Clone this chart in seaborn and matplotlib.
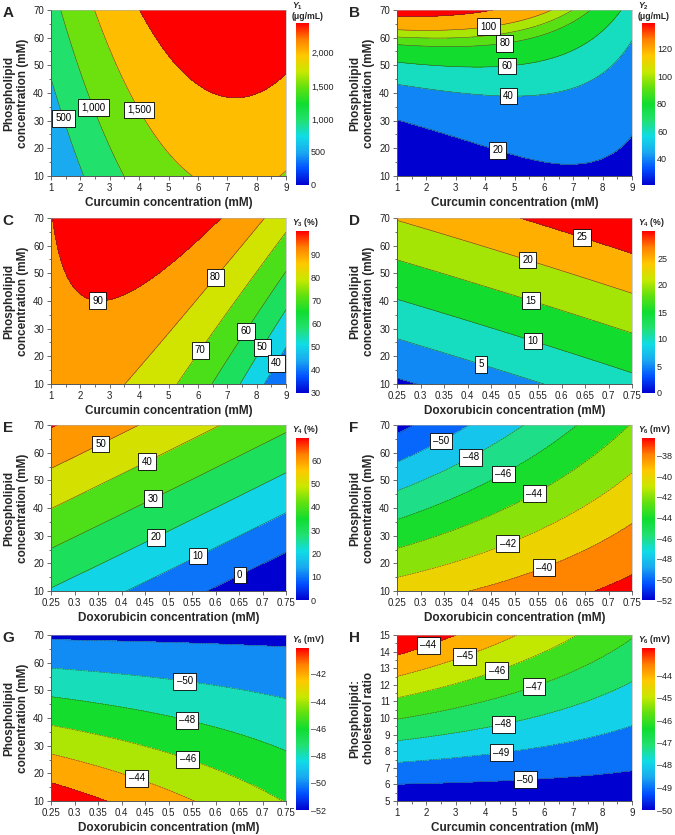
import numpy as np
import matplotlib
matplotlib.use("Agg")
import matplotlib.pyplot as plt
import seaborn as sns
from matplotlib.colors import Normalize
from matplotlib.cm import ScalarMappable
from matplotlib.ticker import MultipleLocator, FuncFormatter

a_x = [1, 1.25, 1.48, 2.08, 1.34, 1.85, 2.5, 3.52, 2.5, 3.18, 3.95, 4.6, 5.97, 8.8, 9,
       4.01, 4.5, 5.45, 6.3, 7.4, 8.4, 9]
a_y = [45.8, 38, 30, 10, 70, 50, 33, 10, 70, 50, 33, 22, 10, 10, 11.5,
       70, 60, 50, 43, 39.5, 42, 45.6]
a_z = [500, 500, 500, 500, 1000, 1000, 1000, 1000, 1500, 1500, 1500, 1500, 1500, 1500, 1500,
       2000, 2000, 2000, 2000, 2000, 2000, 2000]

b_x = [1, 2.5, 3.5, 4.3, 1, 2.5, 4.1, 5.94, 1, 3, 4.5, 7.07, 1, 3, 4.6, 6.5, 7.86,
       1, 3, 4.7, 6, 7, 7.8, 8.5, 1, 2, 3, 4.8, 6, 7, 8, 8.5, 9,
       1, 2, 3, 4.4, 5, 6.3, 7, 8, 9]
b_y = [67, 68, 69, 70, 63.6, 63.5, 64.3, 70, 59.8, 59.5, 60.9, 70, 56.4, 55.8, 56.8, 61, 70,
       52.5, 50.3, 50, 53, 56.8, 62, 70, 43.8, 41.8, 40, 38, 39.5, 41.5, 47.8, 52.5, 58,
       29.2, 27, 24.5, 19.5, 17.5, 15.4, 15.6, 17, 21.4]
b_z = [120, 120, 120, 120, 100, 100, 100, 100, 90, 90, 90, 90, 80, 80, 80, 80, 80,
       60, 60, 60, 60, 60, 60, 60, 40, 40, 40, 40, 40, 40, 40, 40, 40,
       20, 20, 20, 20, 20, 20, 20, 20, 20]

c_x = [1.02, 1.14, 1.48, 1.93, 2.9, 4.6, 5.74, 6.76, 3.56, 5, 6.53, 8.3,
       5.28, 6.08, 7.5, 9, 6.45, 7.56, 9, 7.44, 8.18, 9, 8.27, 8.67, 9]
c_y = [70, 60, 50, 45, 42.4, 50.6, 60, 70, 10, 27.5, 48, 70,
       10, 21.8, 40.5, 65, 10, 28.5, 51.2, 10, 23, 36.7, 10, 17.5, 24.1]
c_z = [90, 90, 90, 90, 90, 90, 90, 90, 80, 80, 80, 80,
       70, 70, 70, 70, 60, 60, 60, 50, 50, 50, 40, 40, 40]

d_x = [0.25, 0.289, 0.25, 0.429, 0.56, 0.25, 0.538, 0.75, 0.25, 0.534, 0.75,
       0.25, 0.526, 0.75, 0.51, 0.643, 0.75]
d_y = [12.4, 10, 26.3, 17.5, 10, 40.4, 25.3, 14, 55, 40.3, 28.6,
       69.2, 54.9, 43, 70, 63.3, 56.8]
d_z = [0, 0, 5, 5, 5, 10, 10, 10, 15, 15, 15, 20, 20, 20, 25, 25, 25]

e_x = [0.25, 0.265, 0.25, 0.355, 0.433, 0.25, 0.454, 0.607, 0.25, 0.468, 0.75,
       0.25, 0.473, 0.75, 0.419, 0.563, 0.75, 0.582, 0.65, 0.75]
e_y = [69, 70, 54.1, 63.1, 70, 39.9, 56.6, 70, 25.4, 43.4, 67,
       11.5, 29.4, 52.7, 10, 22.8, 38.3, 10, 16, 24]
e_z = [60, 60, 50, 50, 50, 40, 40, 40, 30, 30, 30, 20, 20, 20, 10, 10, 10, 0, 0, 0]

f_x = [0.25, 0.28, 0.25, 0.345, 0.40, 0.25, 0.409, 0.52, 0.25, 0.475, 0.64,
       0.25, 0.542, 0.74, 0.25, 0.485, 0.75, 0.40, 0.563, 0.75, 0.672, 0.75]
f_y = [66.4, 70, 56.3, 64, 70, 46.5, 58, 70, 36, 52.3, 70,
       25.2, 45.3, 70, 14.7, 27.2, 52.6, 10, 18.6, 34.4, 10, 15.6]
f_z = [-52, -52, -50, -50, -50, -48, -48, -48, -46, -46, -46,
       -44, -44, -44, -42, -42, -42, -40, -40, -40, -38, -38]

g_x = [0.25, 0.5, 0.75, 0.25, 0.533, 0.75, 0.25, 0.54, 0.75, 0.25, 0.542, 0.74,
       0.25, 0.433, 0.55, 0.25, 0.369]
g_y = [68.6, 67.5, 65.6, 57.8, 52.7, 47, 47.7, 39.5, 28.4, 37.1, 25.4, 10,
       27.2, 18.3, 10, 16.6, 10]
g_z = [-52, -52, -52, -50, -50, -50, -48, -48, -48, -46, -46, -46,
       -44, -44, -44, -42, -42]

h_x = [1, 2.06, 2.91, 1, 3.31, 5.07, 1, 4.39, 7.29, 1, 5.64, 9,
       1, 4.62, 9, 1, 4.56, 9, 1, 5.36, 9]
h_y = [13.8, 14.4, 15, 12.46, 13.7, 15, 11.2, 12.86, 15, 9.9, 11.96, 14.8,
       8.6, 9.6, 12.3, 7.34, 7.94, 9.54, 6.06, 6.24, 6.8]
h_z = [-44, -44, -44, -45, -45, -45, -46, -46, -46, -47, -47, -47,
       -48, -48, -48, -49, -49, -49, -50, -50, -50]

# contour levels and colour bar ranges
a_levels = [500, 1000, 1500, 2000]
b_levels = [20, 40, 60, 80, 90, 100, 120]
c_levels = [40, 50, 60, 70, 80, 90]
d_levels = [0, 5, 10, 15, 20, 25]
e_levels = [0, 10, 20, 30, 40, 50, 60]
f_levels = [-52, -50, -48, -46, -44, -42, -40, -38]
g_levels = [-52, -50, -48, -46, -44, -42]
h_levels = [-50, -49, -48, -47, -46, -45, -44]

curc_ticks = [1, 2, 3, 4, 5, 6, 7, 8, 9]
doxo_ticks = [0.25, 0.3, 0.35, 0.4, 0.45, 0.5, 0.55, 0.6, 0.65, 0.7, 0.75]
pl_ticks = [10, 20, 30, 40, 50, 60, 70]
ratio_ticks = [5, 6, 7, 8, 9, 10, 11, 12, 13, 14, 15]

sns.set_theme(style="ticks")
plt.rcParams["font.family"] = ["Liberation Sans", "DejaVu Sans"]
plt.rcParams["mathtext.fontset"] = "custom"
plt.rcParams["mathtext.it"] = "Liberation Sans:italic:bold"
plt.rcParams["mathtext.rm"] = "Liberation Sans:bold"
plt.rcParams["mathtext.bf"] = "Liberation Sans:bold"

cmap = sns.blend_palette(["#0000d0", "#0050ff", "#1aa8f0", "#10dce6", "#22e070", "#10dd30",
                          "#60e010", "#c8e800", "#ffc800", "#ff8000", "#ff0000"],
                         n_colors=256, as_cmap=True)


def dash(v):
    return f"{v:g}".replace("-", "\u2013")


def thousands(v):
    return f"{v:,.0f}"


def fit_surface(xs, ys, zs, xlim, ylim, deg=2, n=300):
    xs, ys, zs = np.asarray(xs, float), np.asarray(ys, float), np.asarray(zs, float)

    def terms(u, v):
        cols = [np.ones_like(u), u, v, u * v, u ** 2, v ** 2]
        if deg == 3:
            cols += [u ** 3, u ** 2 * v, u * v ** 2, v ** 3]
        return np.stack(cols, axis=-1)

    u = (xs - xlim[0]) / (xlim[1] - xlim[0])
    v = (ys - ylim[0]) / (ylim[1] - ylim[0])
    coef = np.linalg.lstsq(terms(u, v), zs, rcond=None)[0]
    gx = np.linspace(xlim[0], xlim[1], n)
    gy = np.linspace(ylim[0], ylim[1], n)
    X, Y = np.meshgrid(gx, gy)
    U = (X - xlim[0]) / (xlim[1] - xlim[0])
    V = (Y - ylim[0]) / (ylim[1] - ylim[0])
    Z = terms(U, V) @ coef
    return X, Y, Z


def nearest_on_contour(cs, level, pos, xlim, ylim):
    # snap a label position onto the drawn contour line of that level
    k = list(cs.levels).index(level)
    segs = [s for s in cs.allsegs[k] if len(s)]
    if not segs:
        return pos
    pts = np.vstack(segs)
    dx = (pts[:, 0] - pos[0]) / (xlim[1] - xlim[0])
    dy = (pts[:, 1] - pos[1]) / (ylim[1] - ylim[0])
    j = np.argmin(dx ** 2 + dy ** 2)
    return pts[j]


curc = "Curcumin concentration (mM)"
doxo = "Doxorubicin concentration (mM)"
pl = "Phospholipid\nconcentration (mM)"

panels = [
    dict(letter="A", pts=(a_x, a_y, a_z), deg=2, levels=a_levels, vlim=(0, 2450), cticks=[0, 500, 1000, 1500, 2000],
         xlim=(1, 9), ylim=(10, 70), xticks=curc_ticks, yticks=pl_ticks, xlabel=curc, ylabel=pl,
         lab=[500, 1000, 1500], pos=[(1.44, 31), (2.48, 35), (4.03, 34)], fmt=thousands,
         title="$\\mathit{Y}_{1}$\n(\u03bcg/mL)"),
    dict(letter="B", pts=(b_x, b_y, b_z), deg=3, levels=b_levels, vlim=(20.6, 139), cticks=[20, 40, 60, 80, 100, 120],
         xlim=(1, 9), ylim=(10, 70), xticks=curc_ticks, yticks=pl_ticks, xlabel=curc, ylabel=pl,
         lab=[100, 80, 60, 40, 20], pos=[(4.1, 64), (4.67, 58), (4.73, 50), (4.79, 38.5), (4.39, 18.5)],
         fmt=dash, title="$\\mathit{Y}_{2}$\n(\u03bcg/mL)"),
    dict(letter="C", pts=(c_x, c_y, c_z), deg=2, levels=c_levels, vlim=(30, 100), cticks=[30, 40, 50, 60, 70, 80, 90],
         xlim=(1, 9), ylim=(10, 70), xticks=curc_ticks, yticks=pl_ticks, xlabel=curc, ylabel=pl,
         lab=[90, 80, 70, 60, 50, 40],
         pos=[(2.61, 41.9), (6.53, 48.8), (6.08, 22.3), (7.56, 29.2), (8.18, 23.2), (8.67, 17.5)],
         fmt=dash, title="$\\mathit{Y}_{3}$ (%)"),
    dict(letter="D", pts=(d_x, d_y, d_z), deg=2, levels=d_levels, vlim=(0, 30), cticks=[0, 5, 10, 15, 20, 25],
         xlim=(0.25, 0.75), ylim=(10, 70), xticks=doxo_ticks, yticks=pl_ticks, xlabel=doxo, ylabel=pl,
         lab=[5, 10, 15, 20, 25],
         pos=[(0.429, 17), (0.538, 25.3), (0.534, 39.8), (0.526, 54.4), (0.643, 62.8)],
         fmt=dash, title="$\\mathit{Y}_{4}$ (%)"),
    dict(letter="E", pts=(e_x, e_y, e_z), deg=2, levels=e_levels, vlim=(0, 69.5), cticks=[0, 10, 20, 30, 40, 50, 60],
         xlim=(0.25, 0.75), ylim=(10, 70), xticks=doxo_ticks, yticks=pl_ticks, xlabel=doxo, ylabel=pl,
         lab=[50, 40, 30, 20, 10, 0],
         pos=[(0.355, 63.1), (0.454, 56.6), (0.468, 43.4), (0.473, 29.4), (0.563, 22.8), (0.65, 16)],
         fmt=dash, title="$\\mathit{Y}_{4}$ (%)"),
    dict(letter="F", pts=(f_x, f_y, f_z), deg=2, levels=f_levels, vlim=(-52, -36.3),
         cticks=[-52, -50, -48, -46, -44, -42, -40, -38],
         xlim=(0.25, 0.75), ylim=(10, 70), xticks=doxo_ticks, yticks=pl_ticks, xlabel=doxo, ylabel=pl,
         lab=[-50, -48, -46, -44, -42, -40],
         pos=[(0.345, 64), (0.409, 58), (0.475, 52.3), (0.542, 45.3), (0.485, 27.2), (0.563, 18.6)],
         fmt=dash, title="$\\mathit{Y}_{6}$ (mV)"),
    dict(letter="G", pts=(g_x, g_y, g_z), deg=2, levels=g_levels, vlim=(-52, -40.1),
         cticks=[-52, -50, -48, -46, -44, -42],
         xlim=(0.25, 0.75), ylim=(10, 70), xticks=doxo_ticks, yticks=pl_ticks, xlabel=doxo, ylabel=pl,
         lab=[-50, -48, -46, -44], pos=[(0.533, 52.7), (0.54, 39.5), (0.542, 25.4), (0.433, 18.3)],
         fmt=dash, title="$\\mathit{Y}_{6}$ (mV)"),
    dict(letter="H", pts=(h_x, h_y, h_z), deg=2, levels=h_levels, vlim=(-50, -42.8),
         cticks=[-50, -49, -48, -47, -46, -45, -44],
         xlim=(1, 9), ylim=(5, 15), xticks=curc_ticks, yticks=ratio_ticks, xlabel=curc,
         ylabel="Phospholipid:\ncholesterol ratio",
         lab=[-44, -45, -46, -47, -48, -49, -50],
         pos=[(2.06, 14.4), (3.31, 13.7), (4.39, 12.86), (5.64, 11.96), (4.62, 9.6), (4.56, 7.94), (5.36, 6.24)],
         fmt=dash, title="$\\mathit{Y}_{6}$ (mV)"),
]

W, H = 675, 835
fig = plt.figure(figsize=(W / 100, H / 100), dpi=100)


def rect(left, top, w, h):
    return [left / W, 1 - (top + h) / H, w / W, h / H]


row_tops = [10, 218, 425, 635]
for i, p in enumerate(panels):
    left = 51 if i % 2 == 0 else 397
    top = row_tops[i // 2]
    ax = fig.add_axes(rect(left, top, 235, 166))
    cax = fig.add_axes(rect(left + 245, top + 13, 13, 162))

    X, Y, Z = fit_surface(*p["pts"], p["xlim"], p["ylim"], deg=p["deg"])
    norm = Normalize(*p["vlim"], clip=True)
    levels = p["levels"]
    uppers = levels + [p["vlim"][1]]
    colors = [cmap(norm(u)) for u in uppers]
    lo = min(Z.min(), levels[0]) - 1
    hi = max(Z.max(), levels[-1]) + 1
    ax.contourf(X, Y, Z, levels=[lo] + levels + [hi], colors=colors)
    cs = ax.contour(X, Y, Z, levels=levels, colors="#3a3a3a", linewidths=0.35)
    for lev, pos in zip(p["lab"], p["pos"]):
        x, y = nearest_on_contour(cs, lev, pos, p["xlim"], p["ylim"])
        ax.text(x, y, p["fmt"](lev), fontsize=7, color="black", ha="center", va="center",
                bbox=dict(boxstyle="square,pad=0.35", fc="white", ec="black", lw=0.6))

    ax.set_xlim(p["xlim"])
    ax.set_ylim(p["ylim"])
    ax.set_xticks(p["xticks"])
    ax.set_yticks(p["yticks"])
    ax.xaxis.set_major_formatter(FuncFormatter(lambda v, _: f"{v:g}"))
    if p["xlim"][1] > 1:
        ax.xaxis.set_minor_locator(MultipleLocator(0.5))
    ax.yaxis.set_minor_locator(MultipleLocator(0.5 if p["ylim"][1] < 20 else 5))
    ax.tick_params(which="both", direction="out", width=0.6, color="#555555",
                   labelsize=7, pad=2, labelcolor="#222222")
    ax.tick_params(which="major", length=3)
    ax.tick_params(which="minor", length=1.8)
    for s in ["left", "bottom"]:
        ax.spines[s].set_color("#555555")
        ax.spines[s].set_linewidth(0.7)
    for s in ["top", "right"]:
        ax.spines[s].set_color("#aaaaaa")
        ax.spines[s].set_linewidth(0.4)
    ax.set_xlabel(p["xlabel"], fontsize=8.5, fontweight="bold", labelpad=3)
    ax.set_ylabel(p["ylabel"], fontsize=8.5, fontweight="bold", labelpad=3)
    ax.text(-0.205, 1.025, p["letter"], transform=ax.transAxes, fontsize=11,
            fontweight="bold", va="top", ha="left")

    sm = ScalarMappable(norm=Normalize(*p["vlim"]), cmap=cmap)
    cb = fig.colorbar(sm, cax=cax, ticks=p["cticks"])
    cb.outline.set_visible(False)
    fmt = p["fmt"]
    cax.yaxis.set_major_formatter(FuncFormatter(lambda v, _, f=fmt: f(v)))
    cax.tick_params(length=0, labelsize=6.5, pad=1.5, labelcolor="#222222")
    cax.text(-0.3, 1.015, p["title"], transform=cax.transAxes, fontsize=6.2,
             fontweight="bold", ha="left", va="bottom", multialignment="left", linespacing=1.0)

fig.savefig("out.png", dpi=100)
